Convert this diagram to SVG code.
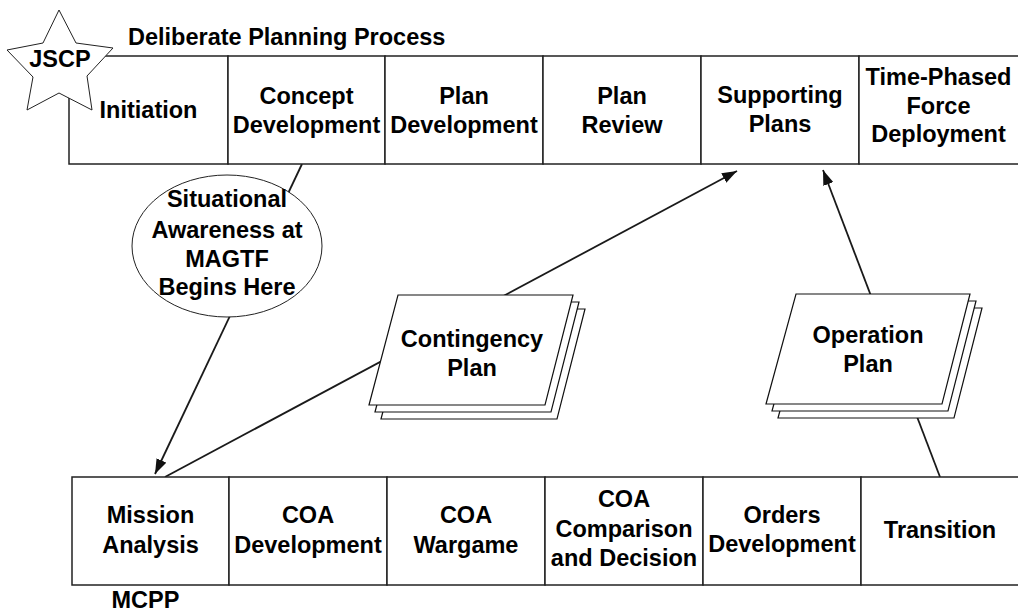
<svg xmlns="http://www.w3.org/2000/svg" width="1018" height="613" viewBox="0 0 1018 613">
<style>
text{font-family:"Liberation Sans",Arial,sans-serif;font-weight:bold;font-size:23.5px;fill:#000;text-anchor:middle}
.box{fill:#fff;stroke:#222;stroke-width:1.5}
.conn{stroke:#1a1a1a;stroke-width:1.8;fill:none}
.sheet{fill:#fff;stroke:#111;stroke-width:1.2}
.thin{fill:#fff;stroke:#222;stroke-width:1}
</style>
<defs>
<marker id="arr" viewBox="0 0 14 10" refX="14" refY="5" markerWidth="15" markerHeight="11" markerUnits="userSpaceOnUse" orient="auto">
<path d="M0,0 L14,5 L0,10 z" fill="#111"/>
</marker>
</defs>
<g id="connectors">
<line class="conn" x1="302" y1="164" x2="155" y2="474" marker-end="url(#arr)"/>
<line class="conn" x1="165" y1="477" x2="737" y2="171" marker-end="url(#arr)"/>
<line class="conn" x1="940" y1="477" x2="823" y2="170" marker-end="url(#arr)"/>
</g>
<g id="top-row">
<g id="initiation"><rect class="box" x="69" y="56" width="159" height="108"/><text x="148.5" y="118">Initiation</text></g>
<g id="concept-development"><rect class="box" x="228" y="56" width="157" height="108"/><text x="306.5" y="104">Concept</text><text x="306.5" y="133">Development</text></g>
<g id="plan-development"><rect class="box" x="385" y="56" width="158" height="108"/><text x="464" y="104">Plan</text><text x="464" y="133">Development</text></g>
<g id="plan-review"><rect class="box" x="543" y="56" width="158" height="108"/><text x="622" y="104">Plan</text><text x="622" y="133">Review</text></g>
<g id="supporting-plans"><rect class="box" x="701" y="56" width="158" height="108"/><text x="780" y="103">Supporting</text><text x="780" y="132">Plans</text></g>
<g id="tpfd"><rect class="box" x="859" y="56" width="161" height="108"/><text x="938.5" y="85">Time-Phased</text><text x="938.5" y="114">Force</text><text x="938.5" y="142">Deployment</text></g>
</g>
<g id="title"><text x="128" y="45" style="text-anchor:start">Deliberate Planning Process</text></g>
<g id="jscp">
<polygon class="thin" points="59,10 76,43 113,48 87,76 92,110 59,93 27,110 33,77 7,50 43,43"/>
<text x="60" y="67">JSCP</text>
</g>
<g id="situational-awareness">
<ellipse class="thin" cx="227" cy="246" rx="95" ry="71"/>
<text x="227" y="207">Situational</text>
<text x="227" y="238">Awareness at</text>
<text x="227" y="267">MAGTF</text>
<text x="227" y="295">Begins Here</text>
</g>
<g id="contingency-plan">
<polygon class="sheet" points="410,309 585,309 557,419 381,419"/>
<polygon class="sheet" points="404,302 579,302 551,412 375,412"/>
<polygon class="sheet" points="398,295 573,295 545,405 369,405"/>
<text x="472" y="347">Contingency</text>
<text x="472" y="376">Plan</text>
</g>
<g id="operation-plan">
<polygon class="sheet" points="808,308 982,308 954,418 778,418"/>
<polygon class="sheet" points="802,301 976,301 948,411 772,411"/>
<polygon class="sheet" points="796,294 970,294 942,404 766,404"/>
<text x="868" y="343">Operation</text>
<text x="868" y="372">Plan</text>
</g>
<g id="bottom-row">
<g id="mission-analysis"><rect class="box" x="72" y="477" width="157" height="108"/><text x="150.5" y="523">Mission</text><text x="150.5" y="553">Analysis</text></g>
<g id="coa-development"><rect class="box" x="229" y="477" width="158" height="108"/><text x="308" y="523">COA</text><text x="308" y="553">Development</text></g>
<g id="coa-wargame"><rect class="box" x="387" y="477" width="158" height="108"/><text x="466" y="523">COA</text><text x="466" y="553">Wargame</text></g>
<g id="coa-comparison"><rect class="box" x="545" y="477" width="158" height="108"/><text x="624" y="507">COA</text><text x="624" y="537">Comparison</text><text x="624" y="566">and Decision</text></g>
<g id="orders-development"><rect class="box" x="703" y="477" width="158" height="108"/><text x="782" y="523">Orders</text><text x="782" y="552">Development</text></g>
<g id="transition"><rect class="box" x="861" y="477" width="160" height="108"/><text x="940" y="538">Transition</text></g>
</g>
<g id="mcpp"><text x="145.5" y="608">MCPP</text></g>
</svg>
